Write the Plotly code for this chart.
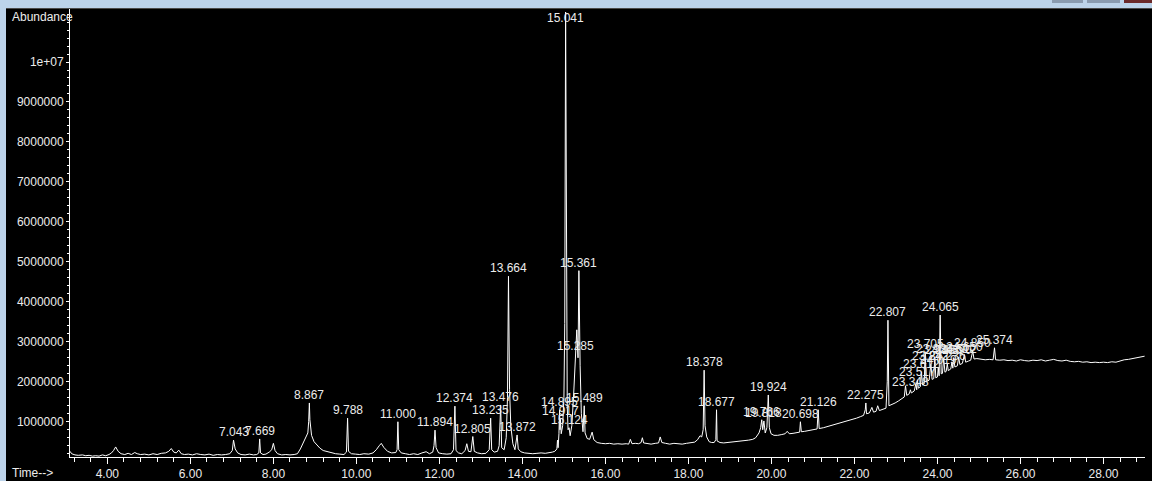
import plotly.graph_objects as go

# ---------------- data (time in min, abundance in millions) ----------------
time_min = [
    3.10, 3.14, 3.22, 3.30, 3.40, 3.48, 3.56, 3.64, 3.72, 3.80, 3.88, 3.96, 4.04, 4.10, 4.15, 4.20, 4.26, 4.33,
    4.42, 4.50, 4.58, 4.66, 4.72, 4.80, 4.90, 5.00, 5.10, 5.20, 5.30, 5.40, 5.48, 5.54, 5.60, 5.66, 5.72, 5.78,
    5.86, 5.95, 6.05, 6.15, 6.25, 6.35, 6.45, 6.55, 6.65, 6.75, 6.85, 6.95, 7.01, 7.04, 7.08, 7.14, 7.22, 7.32,
    7.42, 7.52, 7.60, 7.65, 7.67, 7.69, 7.75, 7.82, 7.90, 7.96, 8.00, 8.04, 8.10, 8.20, 8.30, 8.40, 8.50, 8.58,
    8.65, 8.72, 8.78, 8.83, 8.85, 8.867, 8.88, 8.92, 8.98, 9.05, 9.12, 9.20, 9.30, 9.40, 9.50, 9.60, 9.70, 9.76,
    9.788, 9.81, 9.88, 9.98, 10.08, 10.18, 10.30, 10.40, 10.48, 10.55, 10.60, 10.66, 10.75, 10.85, 10.95, 10.98,
    11.00, 11.02, 11.08, 11.18, 11.28, 11.38, 11.48, 11.58, 11.68, 11.76, 11.84, 11.87, 11.894, 11.92, 11.98,
    12.08, 12.18, 12.28, 12.34, 12.374, 12.40, 12.46, 12.54, 12.62, 12.66, 12.70, 12.76, 12.805, 12.84, 12.92,
    13.02, 13.12, 13.20, 13.235, 13.26, 13.32, 13.40, 13.44, 13.476, 13.50, 13.56, 13.61, 13.64, 13.664, 13.69,
    13.72, 13.77, 13.82, 13.872, 13.90, 13.96, 14.05, 14.15, 14.25, 14.35, 14.45, 14.55, 14.65, 14.72, 14.78,
    14.83, 14.845, 14.86, 14.88, 14.895, 14.905, 14.917, 14.935, 14.97, 15.00, 15.02, 15.041, 15.06, 15.08, 15.10,
    15.124, 15.15, 15.19, 15.23, 15.26, 15.285, 15.31, 15.34, 15.361, 15.39, 15.42, 15.46, 15.489, 15.51, 15.56,
    15.62, 15.68, 15.72, 15.80, 15.90, 16.00, 16.10, 16.20, 16.30, 16.40, 16.50, 16.56, 16.60, 16.64, 16.72,
    16.80, 16.86, 16.89, 16.92, 17.00, 17.10, 17.20, 17.28, 17.32, 17.36, 17.45, 17.55, 17.65, 17.75, 17.85,
    17.95, 18.05, 18.15, 18.22, 18.28, 18.32, 18.355, 18.378, 18.40, 18.44, 18.50, 18.56, 18.62, 18.66, 18.677,
    18.69, 18.76, 18.85, 18.95, 19.05, 19.15, 19.25, 19.35, 19.45, 19.55, 19.62, 19.70, 19.74, 19.766, 19.79,
    19.818, 19.85, 19.89, 19.924, 19.95, 19.99, 20.06, 20.15, 20.25, 20.33, 20.38, 20.43, 20.52, 20.62, 20.68,
    20.698, 20.72, 20.80, 20.90, 21.00, 21.10, 21.126, 21.15, 21.25, 21.35, 21.45, 21.55, 21.65, 21.75, 21.85,
    21.95, 22.05, 22.15, 22.22, 22.26, 22.275, 22.29, 22.36, 22.42, 22.46, 22.52, 22.56, 22.60, 22.68, 22.76,
    22.79, 22.807, 22.83, 22.90, 22.98, 23.06, 23.14, 23.20, 23.23, 23.26, 23.32, 23.348, 23.37, 23.44, 23.48,
    23.50, 23.517, 23.54, 23.59, 23.612, 23.64, 23.68, 23.705, 23.73, 23.80, 23.842, 23.87, 23.91, 23.936, 23.96,
    24.00, 24.019, 24.04, 24.065, 24.09, 24.12, 24.15, 24.18, 24.21, 24.236, 24.26, 24.32, 24.35, 24.37, 24.39,
    24.42, 24.48, 24.512, 24.54, 24.60, 24.65, 24.68, 24.75, 24.80, 24.85, 24.88, 24.95, 25.05, 25.15, 25.25,
    25.34, 25.374, 25.40, 25.50, 25.60, 25.70, 25.80, 25.90, 26.00, 26.10, 26.20, 26.30, 26.40, 26.50, 26.60,
    26.70, 26.80, 26.90, 27.00, 27.10, 27.20, 27.30, 27.40, 27.50, 27.60, 27.70, 27.80, 27.90, 28.00, 28.10,
    28.20, 28.30, 28.40, 28.50, 28.60, 28.70, 28.80, 28.90, 28.99,
]
abundance_M = [
    0.26, 0.20, 0.17, 0.16, 0.17, 0.15, 0.16, 0.14, 0.15, 0.14, 0.17, 0.15, 0.18, 0.22, 0.28, 0.37, 0.26, 0.20,
    0.18, 0.21, 0.18, 0.23, 0.20, 0.18, 0.19, 0.17, 0.20, 0.18, 0.21, 0.22, 0.26, 0.33, 0.24, 0.22, 0.29, 0.20,
    0.18, 0.19, 0.17, 0.20, 0.18, 0.17, 0.19, 0.16, 0.18, 0.17, 0.18, 0.20, 0.28, 0.54, 0.32, 0.22, 0.18, 0.17,
    0.19, 0.17, 0.18, 0.22, 0.57, 0.22, 0.18, 0.19, 0.24, 0.30, 0.46, 0.28, 0.20, 0.17, 0.18, 0.17, 0.18, 0.20,
    0.32, 0.47, 0.58, 0.72, 1.00, 1.47, 1.05, 0.66, 0.50, 0.42, 0.34, 0.28, 0.25, 0.22, 0.20, 0.19, 0.18, 0.24,
    1.09, 0.26, 0.20, 0.19, 0.18, 0.20, 0.19, 0.22, 0.30, 0.40, 0.46, 0.36, 0.26, 0.22, 0.23, 0.30,
    1.00, 0.30, 0.22, 0.20, 0.18, 0.20, 0.18, 0.22, 0.25, 0.20, 0.24, 0.40, 0.79, 0.35, 0.22,
    0.20, 0.19, 0.20, 0.30, 1.39, 0.28, 0.22, 0.20, 0.28, 0.45, 0.26, 0.25, 0.63, 0.26, 0.22,
    0.20, 0.21, 0.30, 1.09, 0.30, 0.24, 0.26, 0.40, 1.42, 0.35, 0.30, 0.60, 1.60, 4.64, 1.80,
    0.90, 0.45, 0.30, 0.67, 0.32, 0.25, 0.22, 0.21, 0.20, 0.21, 0.22, 0.21, 0.22, 0.24, 0.26,
    0.32, 0.54, 0.35, 0.70, 1.30, 0.80, 1.06, 0.70, 0.90, 1.60, 3.46, 11.25, 3.20, 1.40, 0.80,
    0.85, 0.65, 0.90, 1.60, 2.20, 2.70, 3.30, 2.60, 4.78, 2.40, 1.20, 0.75, 1.40, 0.72, 0.58,
    0.56, 0.74, 0.55, 0.48, 0.46, 0.45, 0.46, 0.44, 0.45, 0.44, 0.45, 0.44, 0.56, 0.45, 0.46,
    0.45, 0.48, 0.60, 0.47, 0.45, 0.44, 0.46, 0.47, 0.62, 0.48, 0.46, 0.44, 0.46, 0.45, 0.44,
    0.46, 0.47, 0.49, 0.55, 0.65, 0.62, 0.80, 2.29, 0.90, 0.62, 0.50, 0.48, 0.48, 0.55, 1.30,
    0.52, 0.48, 0.47, 0.48, 0.49, 0.50, 0.51, 0.53, 0.54, 0.56, 0.60, 0.72, 0.85, 1.05, 0.80,
    1.02, 0.72, 0.85, 1.67, 0.85, 0.70, 0.66, 0.66, 0.68, 0.70, 0.76, 0.70, 0.71, 0.72, 0.74,
    1.00, 0.75, 0.76, 0.78, 0.80, 0.82, 1.30, 0.83, 0.85, 0.88, 0.90, 0.94, 0.96, 0.99, 1.02,
    1.05, 1.09, 1.13, 1.16, 1.30, 1.47, 1.20, 1.22, 1.36, 1.24, 1.26, 1.40, 1.28, 1.31, 1.34,
    2.00, 3.54, 1.40, 1.43, 1.47, 1.52, 1.57, 1.62, 1.90, 1.66, 1.70, 1.80, 1.72, 1.77, 1.95,
    1.80, 2.05, 1.84, 1.88, 2.25, 1.92, 1.95, 2.75, 2.00, 2.04, 2.45, 2.06, 2.08, 2.62, 2.10,
    2.12, 2.35, 2.15, 3.67, 2.20, 2.21, 2.60, 2.24, 2.26, 2.45, 2.28, 2.32, 2.50, 2.34, 2.60,
    2.37, 2.40, 2.62, 2.43, 2.46, 2.68, 2.49, 2.52, 2.54, 2.77, 2.57, 2.58, 2.56, 2.55, 2.56,
    2.55, 2.85, 2.55, 2.54, 2.55, 2.53, 2.54, 2.52, 2.55, 2.53, 2.52, 2.54, 2.53, 2.55, 2.52,
    2.54, 2.56, 2.53, 2.52, 2.54, 2.51, 2.50, 2.51, 2.49, 2.50, 2.48, 2.49, 2.48, 2.49, 2.48,
    2.50, 2.49, 2.52, 2.55, 2.56, 2.58, 2.59, 2.62, 2.64,
]

peak_labels = [
    "7.043", "7.669", "8.867", "9.788", "11.000", "11.894", "12.374", "12.805", "13.235", "13.476",
    "13.664", "13.872", "14.895", "14.917", "15.041", "15.124", "15.285", "15.361", "15.489", "18.378",
    "18.677", "19.766", "19.818", "19.924", "20.698", "21.126", "22.275", "22.807", "23.348", "23.517",
    "23.612", "23.705", "23.842", "23.936", "24.019", "24.065", "24.150", "24.236", "24.390", "24.512",
    "24.650", "24.850", "25.374",
]
peak_times = [
    7.043, 7.669, 8.867, 9.788, 11.000, 11.894, 12.374, 12.805, 13.235, 13.476,
    13.664, 13.872, 14.895, 14.917, 15.041, 15.124, 15.285, 15.361, 15.489, 18.378,
    18.677, 19.766, 19.818, 19.924, 20.698, 21.126, 22.275, 22.807, 23.348, 23.517,
    23.612, 23.705, 23.842, 23.936, 24.019, 24.065, 24.150, 24.236, 24.390, 24.512,
    24.650, 24.850, 25.374,
]
peak_heights_M = [
    0.54, 0.57, 1.47, 1.09, 1.00, 0.79, 1.39, 0.63, 1.09, 1.42,
    4.64, 0.67, 1.30, 1.06, 11.25, 0.85, 2.70, 4.78, 1.40, 2.29,
    1.30, 1.05, 1.02, 1.67, 1.00, 1.30, 1.47, 3.54, 1.80, 2.05,
    2.25, 2.75, 2.45, 2.62, 2.35, 3.67, 2.60, 2.45, 2.60, 2.62,
    2.68, 2.77, 2.85,
]

y_tick_vals = [1e6, 2e6, 3e6, 4e6, 5e6, 6e6, 7e6, 8e6, 9e6, 1e7]
y_tick_text = ["1000000", "2000000", "3000000", "4000000", "5000000",
               "6000000", "7000000", "8000000", "9000000", "1e+07"]
x_tick_vals = [4, 6, 8, 10, 12, 14, 16, 18, 20, 22, 24, 26, 28]
x_tick_text = ["%.2f" % v for v in x_tick_vals]

# ---------------- figure ----------------
M = 1e6
FONT = "Liberation Sans, Arial, sans-serif"
TXT = "#ececec"

fig = go.Figure()
fig.add_trace(go.Scatter(
    x=time_min, y=[a * M for a in abundance_M], mode="lines",
    line=dict(color="white", width=1), hoverinfo="skip", showlegend=False,
))

# layout geometry: plot area from x=70..1145, y=9..457 px
W, H = 1152, 481
L, R, T, B = 70, 7, 9, 24
pw, ph = W - L - R, H - T - B

annotations = []
for t, h, s in zip(peak_times, peak_heights_M, peak_labels):
    annotations.append(dict(
        x=t, y=min(h, 10.9) * M, xref="x", yref="y", text=s, showarrow=False,
        xanchor="center", yanchor="bottom", borderpad=0,
        font=dict(family=FONT, size=12, color=TXT),
    ))
annotations.append(dict(
    x=(10 - L) / pw, y=(H - B - 17) / ph, xref="paper", yref="paper", text="Abundance",
    showarrow=False, xanchor="left", yanchor="middle",
    font=dict(family=FONT, size=12, color=TXT),
))
annotations.append(dict(
    x=(10 - L) / pw, y=(H - B - 473) / ph, xref="paper", yref="paper", text="Time-->",
    showarrow=False, xanchor="left", yanchor="middle",
    font=dict(family=FONT, size=12, color=TXT),
))

def px_x(p):
    return (p - L) / pw

def px_y(p):
    return (H - B - p) / ph

shapes = [
    # window frame strips
    dict(type="rect", xref="paper", yref="paper", x0=px_x(0), x1=px_x(W), y0=px_y(8), y1=px_y(0),
         fillcolor="#bcd3ea", line=dict(width=0), layer="above"),
    dict(type="rect", xref="paper", yref="paper", x0=px_x(0), x1=px_x(6), y0=px_y(H), y1=px_y(0),
         fillcolor="#bcd3ea", line=dict(width=0), layer="above"),
    dict(type="rect", xref="paper", yref="paper", x0=px_x(6), x1=px_x(W), y0=px_y(9), y1=px_y(8),
         fillcolor="#4a4a4a", line=dict(width=0), layer="above"),
    dict(type="rect", xref="paper", yref="paper", x0=px_x(1052), x1=px_x(1083), y0=px_y(3), y1=px_y(0),
         fillcolor="#8a9bb0", line=dict(width=0), layer="above"),
    dict(type="rect", xref="paper", yref="paper", x0=px_x(1087), x1=px_x(1120), y0=px_y(3), y1=px_y(0),
         fillcolor="#8a9bb0", line=dict(width=0), layer="above"),
    dict(type="rect", xref="paper", yref="paper", x0=px_x(1124), x1=px_x(W), y0=px_y(3), y1=px_y(0),
         fillcolor="#6b2a2a", line=dict(width=0), layer="above"),
]

fig.update_layout(
    width=W, height=H, autosize=False,
    margin=dict(l=L, r=R, t=T, b=B, pad=0),
    paper_bgcolor="black", plot_bgcolor="black",
    showlegend=False,
    annotations=annotations,
    shapes=shapes,
    font=dict(family=FONT, size=12, color=TXT),
)
fig.update_xaxes(
    range=[3.1, 29.0], showgrid=False, zeroline=False, automargin=False,
    showline=True, linecolor="white", linewidth=1,
    tickmode="array", tickvals=x_tick_vals, ticktext=x_tick_text,
    ticks="outside", ticklen=6, tickcolor="white", tickwidth=1,
    tickfont=dict(family=FONT, size=12, color=TXT),
    minor=dict(tick0=0, dtick=0.4, ticks="outside", ticklen=4, tickcolor="white", showgrid=False),
)
fig.update_yaxes(
    range=[0.118e6, 11.326e6], showgrid=False, zeroline=False, automargin=False,
    showline=True, linecolor="white", linewidth=1,
    tickmode="array", tickvals=y_tick_vals, ticktext=y_tick_text,
    ticks="outside", ticklen=3, tickcolor="white", tickwidth=1,
    tickfont=dict(family=FONT, size=12, color=TXT),
    minor=dict(tick0=0, dtick=2e5, ticks="outside", ticklen=2, tickcolor="white", showgrid=False),
)

fig.write_html(
    "out.html",
    config={"displayModeBar": False},
    post_script="document.body.style.margin='0';document.body.style.padding='0';"
                "document.body.style.background='black';",
)
